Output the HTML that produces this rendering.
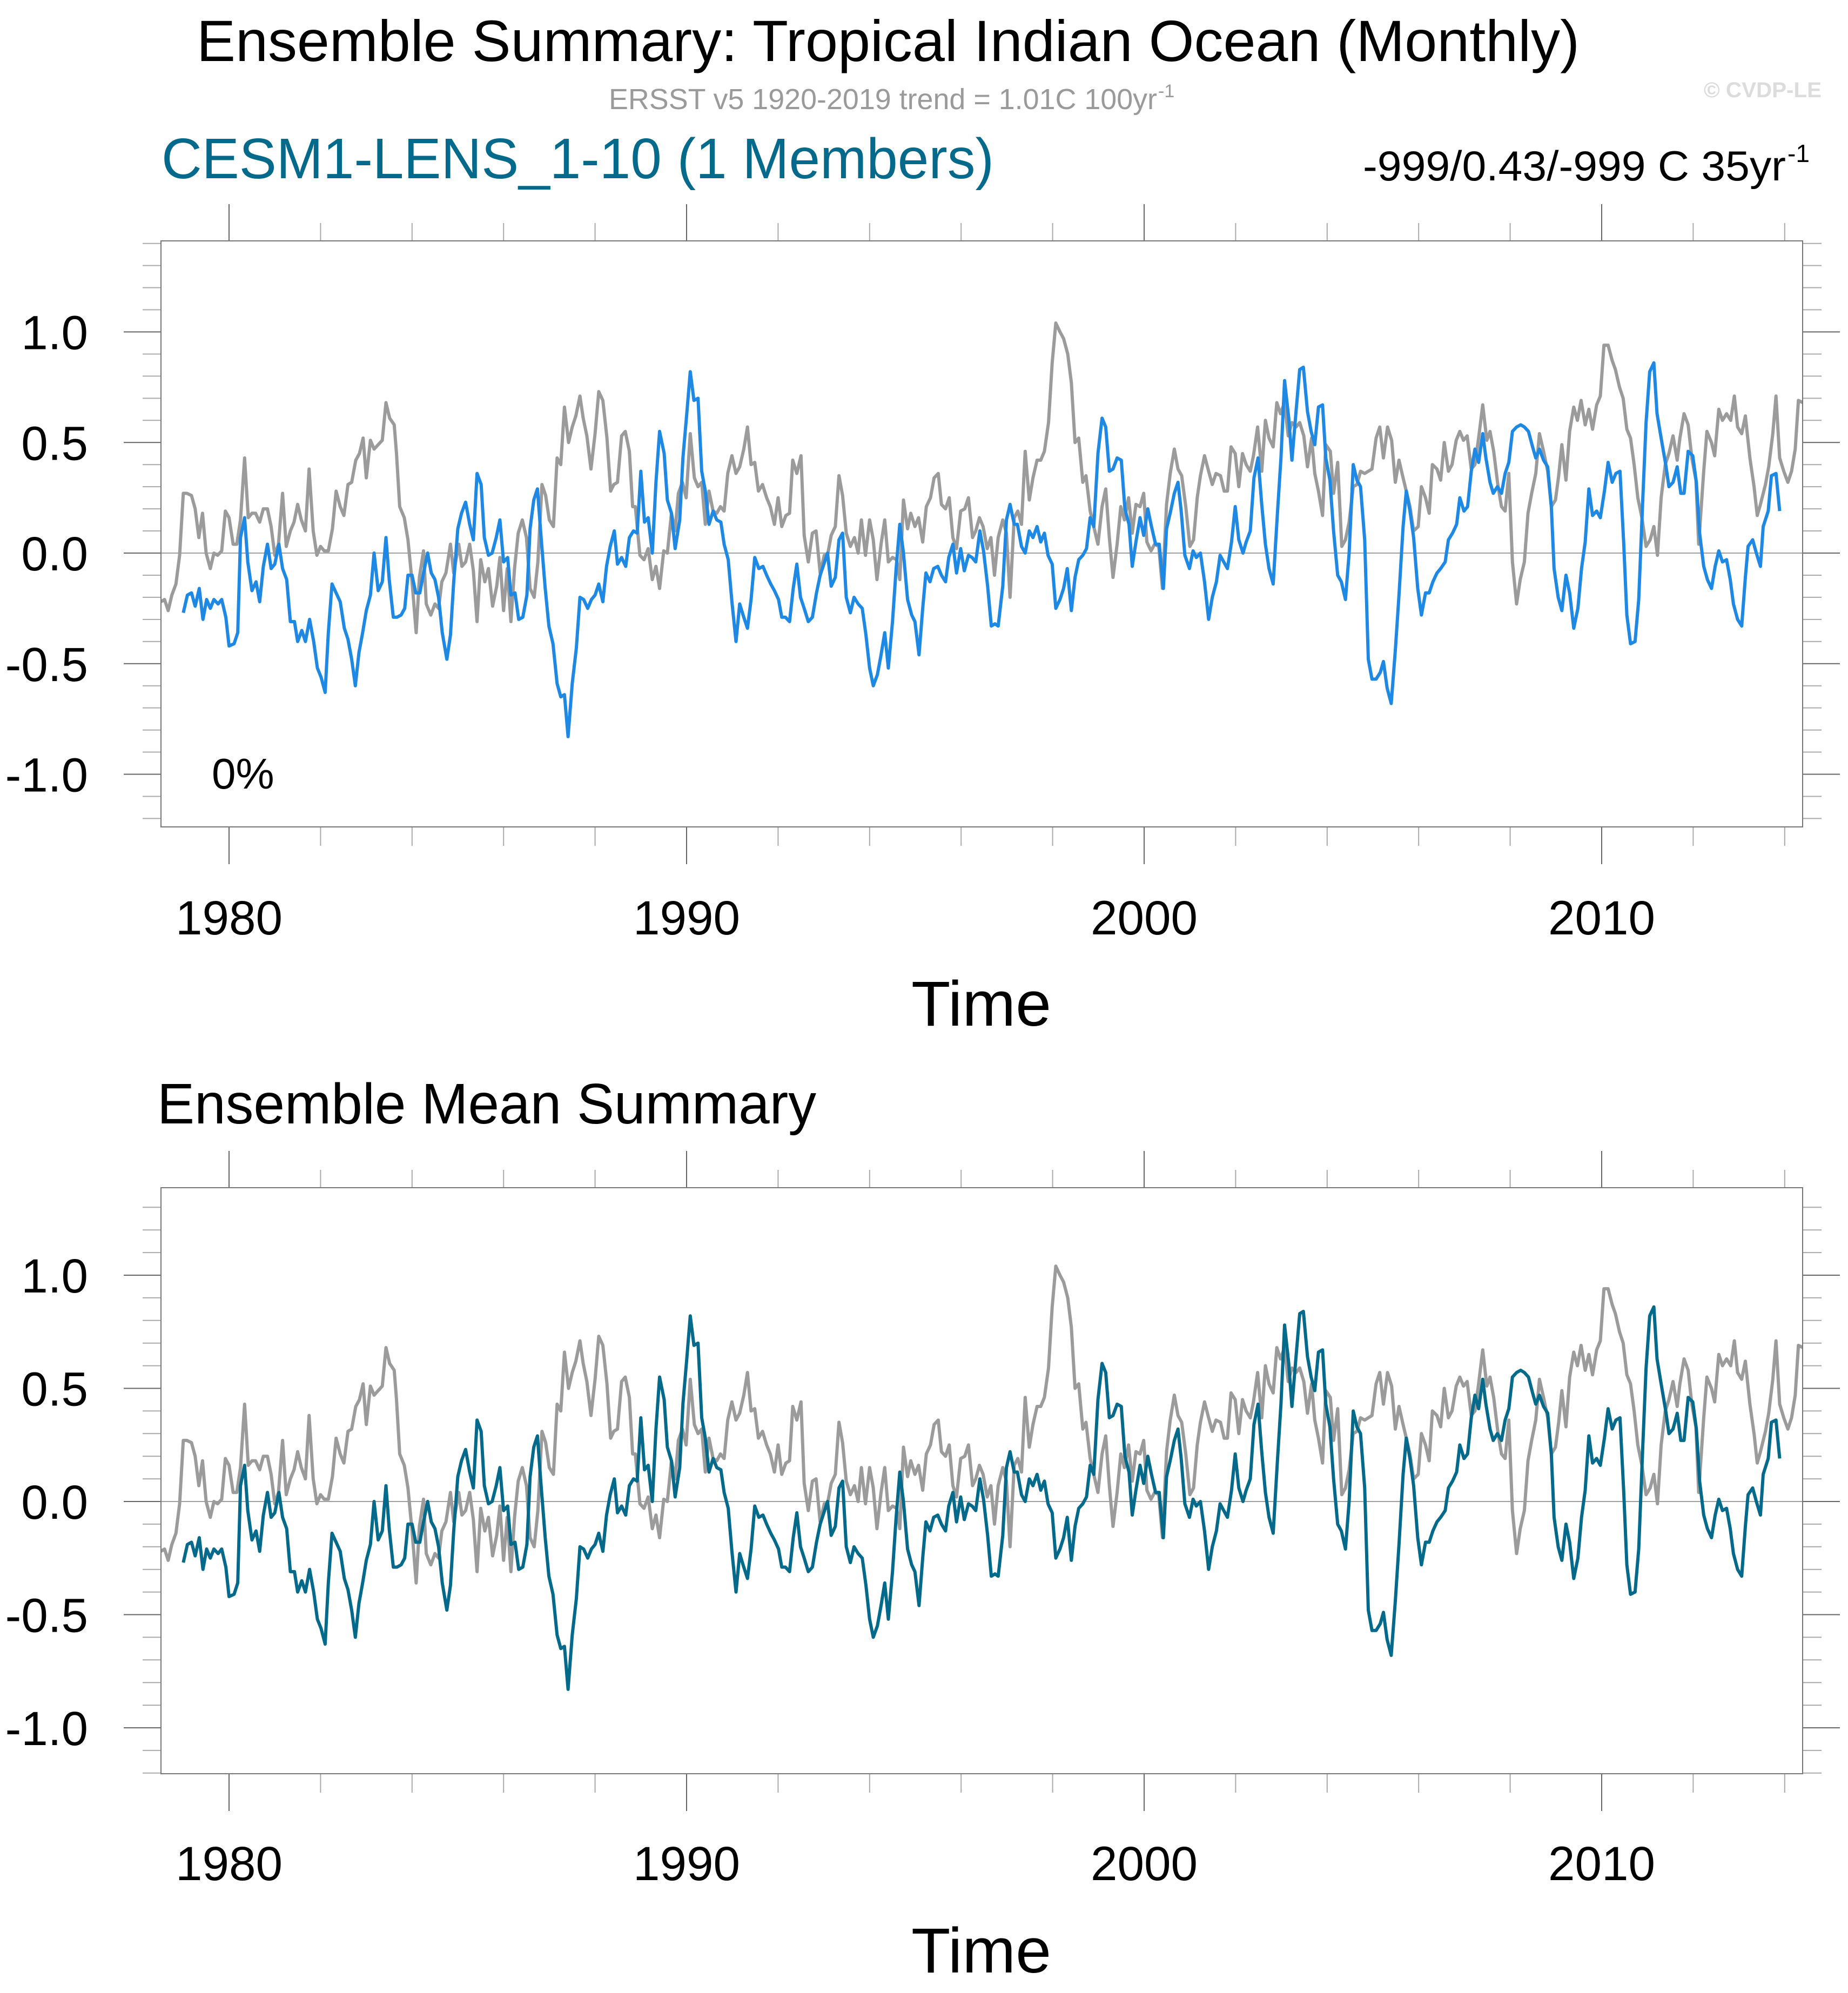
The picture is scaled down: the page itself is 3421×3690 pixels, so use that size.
<!DOCTYPE html>
<html><head><meta charset="utf-8"><style>
html,body{margin:0;padding:0;background:#fff;}
svg{display:block;font-family:"Liberation Sans",Arial,sans-serif;}
</style></head><body>
<svg id="chart" width="3421" height="3690" viewBox="0 0 3421 3690" xmlns="http://www.w3.org/2000/svg">
<rect x="0" y="0" width="3421" height="3690" fill="#fff"/>
<text x="364" y="113" font-size="108" textLength="2560" lengthAdjust="spacingAndGlyphs">Ensemble Summary: Tropical Indian Ocean (Monthly)</text>
<text x="1127" y="202" font-size="54" fill="#9a9a9a" textLength="1015" lengthAdjust="spacingAndGlyphs">ERSST v5 1920-2019 trend = 1.01C 100yr</text>
<text x="2144" y="180" font-size="34" fill="#9a9a9a">-1</text>
<text x="3154" y="180" font-size="40" font-weight="bold" fill="#dcdcdc" textLength="218" lengthAdjust="spacingAndGlyphs">© CVDP-LE</text>
<text x="299" y="330" font-size="106" fill="#046a8c" textLength="1541" lengthAdjust="spacingAndGlyphs">CESM1-LENS_1-10 (1 Members)</text>
<text x="2523" y="334" font-size="78" textLength="783" lengthAdjust="spacingAndGlyphs">-999/0.43/-999 C 35yr</text>
<text x="3309" y="300" font-size="46">-1</text>
<text x="392" y="1460" font-size="80">0%</text>
<text x="1687" y="1899" font-size="118" textLength="259" lengthAdjust="spacingAndGlyphs">Time</text>
<text x="291" y="2080" font-size="106" textLength="1220" lengthAdjust="spacingAndGlyphs">Ensemble Mean Summary</text>
<text x="1687" y="3652" font-size="118" textLength="259" lengthAdjust="spacingAndGlyphs">Time</text>
<g id="top-plot"></g>
<g id="bottom-plot"></g>
</svg>
<script>
// ---- data (years since 1900, anomaly in C) ----
const obsYears = [78.51,78.59,78.67,78.75,78.84,78.92,79.00,79.08,79.18,79.26,79.34,79.42,79.50,79.59,79.67,79.75,79.84,79.92,80.00,80.09,80.17,80.25,80.34,80.42,80.50,80.58,80.67,80.75,80.84,80.92,81.00,81.08,81.17,81.25,81.34,81.42,81.50,81.58,81.67,81.75,81.84,81.92,82.00,82.08,82.17,82.26,82.34,82.43,82.51,82.60,82.68,82.77,82.85,82.93,83.00,83.09,83.17,83.26,83.35,83.43,83.51,83.61,83.66,83.73,83.83,83.91,84.00,84.09,84.16,84.25,84.31,84.41,84.50,84.58,84.65,84.74,84.84,84.91,85.02,85.09,85.17,85.26,85.34,85.42,85.50,85.59,85.67,85.76,85.85,85.92,86.00,86.08,86.16,86.24,86.32,86.41,86.50,86.58,86.67,86.75,86.84,86.92,87.00,87.09,87.17,87.25,87.33,87.42,87.50,87.58,87.67,87.74,87.82,87.91,
88.00,88.08,88.17,88.26,88.34,88.41,88.49,88.58,88.66,88.75,88.82,88.88,88.98,89.07,89.16,89.25,89.33,89.41,89.50,89.58,89.67,89.75,89.82,89.91,89.99,90.08,90.17,90.25,90.33,90.41,90.49,90.58,90.66,90.74,90.82,90.90,90.99,91.08,91.16,91.25,91.33,91.41,91.49,91.57,91.66,91.75,91.83,91.92,92.00,92.08,92.17,92.25,92.32,92.41,92.50,92.57,92.66,92.75,92.83,92.92,93.01,93.08,93.16,93.25,93.33,93.41,93.49,93.58,93.67,93.75,93.82,93.91,94.00,94.08,94.16,94.25,94.33,94.41,94.50,94.59,94.66,94.74,94.83,94.90,94.99,95.07,95.16,95.24,95.33,95.41,95.50,95.57,95.66,95.74,95.82,95.90,95.99,96.08,96.16,96.25,96.32,96.40,96.48,96.57,96.65,96.73,96.81,
96.91,96.99,97.07,97.16,97.24,97.32,97.40,97.49,97.57,97.66,97.74,97.82,97.91,97.99,98.07,98.16,98.24,98.33,98.41,98.49,98.57,98.66,98.73,98.82,98.91,98.99,99.08,99.16,99.24,99.32,99.41,99.49,99.57,99.66,99.74,99.82,99.91,99.99,100.06,100.15,100.23,100.32,100.40,100.49,100.57,100.66,100.74,100.82,100.91,101.00,101.08,101.16,101.23,101.32,101.41,101.49,101.57,101.67,101.75,101.82,101.90,101.99,102.07,102.15,102.23,102.32,102.39,102.48,102.57,102.65,102.73,102.82,102.90,102.98,103.07,103.15,103.23,103.32,103.40,103.49,103.57,103.66,103.73,103.81,103.90,103.97,104.07,104.14,104.23,104.32,104.40,104.48,104.57,104.65,104.73,104.82,104.90,104.98,105.07,105.15,105.23,105.32,105.41,105.49,105.57,105.66,
105.73,105.81,105.89,105.99,106.06,106.15,106.23,106.30,106.40,106.48,106.56,106.65,106.73,106.82,106.90,106.98,107.06,107.15,107.23,107.31,107.40,107.49,107.56,107.64,107.73,107.81,107.89,107.97,108.05,108.14,108.22,108.31,108.39,108.47,108.56,108.64,108.73,108.82,108.90,108.99,109.06,109.13,109.22,109.30,109.39,109.47,109.55,109.64,109.72,109.80,109.89,109.97,110.05,110.14,110.23,110.30,110.39,110.47,110.55,110.63,110.71,110.79,110.88,110.97,111.06,111.14,111.22,111.30,111.39,111.47,111.56,111.65,111.71,111.80,111.89,111.97,112.06,112.12,112.23,112.30,112.40,112.47,112.56,112.64,112.73,112.82,112.90,112.97,113.06,113.14,113.24,113.33,113.40,113.47,113.58,113.65,113.74,113.81,113.89,113.98,114.07,114.15,114.23,114.30,114.40];
const obsValues = [-0.22,-0.21,-0.26,-0.19,-0.14,-0.01,0.27,0.27,0.26,0.20,0.07,0.18,0.00,-0.07,0.00,-0.01,0.01,0.19,0.16,0.04,0.04,0.15,0.43,0.16,0.18,0.18,0.14,0.20,0.20,0.12,-0.01,0.04,0.27,0.03,0.10,0.14,0.22,0.15,0.10,0.38,0.10,-0.01,0.03,0.01,0.01,0.11,0.28,0.21,0.17,0.31,0.32,0.42,0.45,0.52,0.34,0.51,0.47,0.49,0.51,0.68,0.61,0.58,0.45,0.21,0.16,0.06,-0.13,-0.36,-0.11,0.01,-0.23,-0.28,-0.23,-0.25,-0.13,-0.09,0.04,-0.09,0.04,-0.06,-0.04,0.04,-0.08,-0.31,-0.03,-0.13,-0.07,-0.24,-0.15,-0.02,-0.26,-0.07,-0.31,-0.07,0.09,0.15,0.07,-0.16,-0.20,-0.04,0.31,0.26,0.15,0.12,0.43,0.40,0.66,0.50,0.57,0.62,0.71,0.61,0.53,0.38,
0.54,0.73,0.69,0.52,0.28,0.31,0.32,0.53,0.55,0.46,0.21,0.21,-0.01,-0.03,0.02,-0.12,-0.06,-0.16,0.01,0.00,0.18,0.10,0.27,0.32,0.25,0.54,0.34,0.30,0.32,0.13,0.28,0.19,0.18,0.21,0.19,0.36,0.44,0.36,0.39,0.47,0.57,0.40,0.41,0.28,0.31,0.25,0.21,0.13,0.25,0.12,0.17,0.18,0.42,0.36,0.44,0.08,-0.04,0.09,0.10,-0.09,-0.01,-0.01,0.08,0.12,0.35,0.26,0.09,0.03,0.07,0.00,0.15,-0.01,0.15,0.06,-0.12,0.04,0.15,-0.04,-0.02,-0.03,-0.12,0.24,0.11,0.18,0.12,0.16,0.05,0.21,0.25,0.34,0.36,0.22,0.20,0.25,0.07,0.02,0.19,0.20,0.25,0.07,0.10,0.16,0.12,0.02,0.07,-0.10,0.07,
0.15,0.09,-0.20,0.16,0.19,0.13,0.46,0.24,0.34,0.42,0.42,0.46,0.59,0.86,1.04,1.00,0.97,0.90,0.77,0.50,0.52,0.32,0.35,0.19,0.11,0.04,0.21,0.29,0.07,-0.11,0.04,0.21,0.15,0.25,0.09,0.22,0.21,0.27,0.05,0.01,0.04,0.03,-0.16,0.22,0.36,0.47,0.38,0.35,0.21,0.03,0.06,0.25,0.35,0.44,0.37,0.31,0.36,0.35,0.28,0.28,0.48,0.45,0.30,0.45,0.40,0.37,0.44,0.57,0.37,0.60,0.52,0.48,0.68,0.63,0.68,0.53,0.59,0.57,0.59,0.53,0.39,0.52,0.36,0.28,0.17,0.49,0.46,0.27,0.41,0.03,0.06,0.14,0.30,0.31,0.37,0.36,0.37,0.38,0.52,0.57,0.43,0.57,0.51,0.32,0.42,0.34,
0.28,0.21,0.10,0.12,0.30,0.25,0.18,0.40,0.38,0.33,0.50,0.37,0.40,0.51,0.55,0.51,0.53,0.38,0.40,0.52,0.67,0.51,0.55,0.46,0.31,0.21,0.19,0.36,-0.04,-0.23,-0.12,-0.04,0.18,0.27,0.36,0.54,0.46,0.37,0.21,0.24,0.35,0.49,0.33,0.55,0.66,0.60,0.69,0.58,0.65,0.56,0.67,0.71,0.94,0.94,0.87,0.83,0.75,0.70,0.56,0.52,0.40,0.25,0.16,0.03,0.06,0.12,-0.01,0.25,0.40,0.45,0.53,0.42,0.52,0.63,0.58,0.43,0.33,0.04,0.37,0.55,0.50,0.44,0.65,0.60,0.63,0.60,0.71,0.57,0.54,0.62,0.43,0.30,0.17,0.22,0.31,0.39,0.54,0.71,0.43,0.37,0.32,0.37,0.47,0.69,0.68];
const modelYears = [79.00,79.09,79.18,79.26,79.35,79.43,79.51,79.59,79.67,79.76,79.84,79.93,80.00,80.11,80.19,80.25,80.34,80.41,80.50,80.59,80.67,80.75,80.84,80.92,81.00,81.09,81.17,81.26,81.34,81.43,81.50,81.59,81.67,81.76,81.85,81.93,82.01,82.10,82.17,82.25,82.34,82.43,82.52,82.60,82.68,82.76,82.84,82.92,83.00,83.09,83.17,83.26,83.35,83.43,83.50,83.59,83.67,83.76,83.84,83.91,84.00,84.08,84.17,84.25,84.34,84.42,84.50,84.58,84.66,84.76,84.84,84.91,85.00,85.08,85.17,85.26,85.34,85.42,85.51,85.58,85.67,85.75,85.84,85.92,86.00,86.09,86.16,86.25,86.33,86.42,86.51,86.58,86.66,86.74,86.82,86.91,86.99,87.08,87.17,87.25,87.33,87.41,87.50,87.59,87.67,87.75,87.84,87.92,
88.00,88.08,88.17,88.25,88.33,88.42,88.49,88.58,88.67,88.75,88.84,88.92,89.00,89.08,89.16,89.25,89.33,89.41,89.51,89.58,89.67,89.75,89.85,89.92,90.00,90.08,90.16,90.25,90.33,90.41,90.49,90.58,90.66,90.75,90.82,90.91,90.99,91.08,91.16,91.25,91.33,91.41,91.49,91.58,91.67,91.75,91.84,91.92,92.01,92.08,92.16,92.25,92.33,92.41,92.49,92.57,92.66,92.75,92.84,92.92,93.00,93.08,93.16,93.25,93.33,93.41,93.49,93.58,93.66,93.75,93.84,93.92,94.00,94.08,94.17,94.25,94.33,94.41,94.50,94.58,94.66,94.74,94.83,94.92,94.99,95.08,95.16,95.23,95.32,95.40,95.49,95.57,95.66,95.73,95.82,95.90,95.99,96.07,96.16,96.24,96.32,96.41,96.49,96.58,96.66,96.74,96.81,
96.91,96.99,97.07,97.16,97.23,97.32,97.40,97.49,97.57,97.66,97.74,97.82,97.90,97.99,98.07,98.16,98.24,98.32,98.41,98.49,98.57,98.66,98.74,98.82,98.90,98.99,99.08,99.16,99.24,99.32,99.41,99.50,99.58,99.67,99.74,99.82,99.91,99.99,100.08,100.16,100.25,100.33,100.42,100.49,100.58,100.66,100.74,100.81,100.89,100.99,101.07,101.14,101.23,101.32,101.41,101.49,101.58,101.66,101.74,101.82,101.91,101.99,102.07,102.16,102.23,102.32,102.40,102.49,102.57,102.65,102.73,102.82,102.91,102.99,103.07,103.16,103.23,103.32,103.40,103.48,103.57,103.65,103.73,103.81,103.90,103.97,104.06,104.14,104.23,104.31,104.40,104.48,104.57,104.65,104.73,104.82,104.90,104.98,105.07,105.16,105.23,105.31,105.40,105.49,105.57,105.66,
105.73,105.81,105.89,105.98,106.06,106.15,106.23,106.31,106.40,106.48,106.58,106.65,106.74,106.83,106.90,106.99,107.07,107.15,107.23,107.31,107.40,107.47,107.56,107.63,107.72,107.81,107.89,107.97,108.05,108.14,108.23,108.31,108.40,108.49,108.56,108.64,108.73,108.82,108.90,108.96,109.05,109.13,109.22,109.30,109.39,109.48,109.56,109.64,109.72,109.80,109.89,109.97,110.06,110.14,110.23,110.31,110.40,110.48,110.55,110.63,110.73,110.81,110.90,110.97,111.05,111.14,111.21,111.30,111.40,111.47,111.56,111.65,111.73,111.80,111.89,111.99,112.07,112.14,112.23,112.31,112.40,112.48,112.56,112.64,112.73,112.81,112.88,112.97,113.06,113.14,113.20,113.30,113.38,113.47,113.53,113.64,113.71,113.81,113.89];
const modelValues = [-0.27,-0.19,-0.18,-0.24,-0.16,-0.30,-0.21,-0.25,-0.21,-0.23,-0.21,-0.29,-0.42,-0.41,-0.36,0.07,0.16,-0.04,-0.17,-0.13,-0.22,-0.06,0.04,-0.07,-0.05,0.04,-0.07,-0.12,-0.31,-0.31,-0.40,-0.35,-0.40,-0.30,-0.40,-0.52,-0.56,-0.63,-0.36,-0.14,-0.18,-0.22,-0.34,-0.39,-0.48,-0.60,-0.45,-0.36,-0.26,-0.19,0.00,-0.17,-0.13,0.07,-0.12,-0.29,-0.29,-0.28,-0.25,-0.10,-0.10,-0.18,-0.18,-0.09,0.00,-0.09,-0.12,-0.20,-0.36,-0.48,-0.37,-0.13,0.11,0.18,0.23,0.13,0.06,0.36,0.31,0.07,-0.01,0.00,0.07,0.15,-0.04,-0.02,-0.19,-0.18,-0.30,-0.29,-0.19,0.11,0.24,0.29,0.07,-0.16,-0.33,-0.41,-0.59,-0.65,-0.64,-0.83,-0.59,-0.43,-0.20,-0.21,-0.25,-0.21,
-0.19,-0.14,-0.22,-0.06,0.03,0.10,-0.05,-0.02,-0.06,0.07,0.10,0.09,0.37,0.14,0.16,0.00,0.32,0.55,0.45,0.24,0.18,0.02,0.15,0.43,0.62,0.82,0.69,0.70,0.37,0.28,0.13,0.19,0.15,0.14,0.04,-0.03,-0.22,-0.40,-0.23,-0.29,-0.34,-0.21,-0.02,-0.07,-0.06,-0.10,-0.14,-0.17,-0.21,-0.29,-0.29,-0.31,-0.16,-0.05,-0.20,-0.25,-0.31,-0.29,-0.18,-0.10,-0.05,0.00,-0.15,-0.11,0.06,0.09,-0.20,-0.27,-0.20,-0.23,-0.25,-0.37,-0.52,-0.60,-0.55,-0.46,-0.36,-0.52,-0.31,-0.07,0.13,0.00,-0.21,-0.28,-0.31,-0.46,-0.25,-0.09,-0.13,-0.07,-0.06,-0.10,-0.13,-0.02,0.04,-0.09,0.02,-0.08,-0.01,-0.02,-0.04,0.10,0.01,-0.15,-0.33,-0.32,-0.33,
-0.15,0.15,0.22,0.13,0.13,0.03,0.00,0.10,0.07,0.12,0.05,0.09,-0.01,-0.05,-0.25,-0.21,-0.16,-0.07,-0.26,-0.11,-0.03,-0.01,0.02,0.16,0.12,0.45,0.61,0.57,0.37,0.38,0.43,0.42,0.20,0.13,-0.06,0.05,0.16,0.08,0.20,0.12,0.04,0.04,-0.16,0.11,0.19,0.27,0.32,0.19,-0.01,-0.07,0.01,-0.02,0.00,-0.13,-0.30,-0.20,-0.13,-0.01,-0.04,-0.07,0.05,0.21,0.06,0.00,0.05,0.10,0.34,0.43,0.22,0.04,-0.07,-0.14,0.17,0.43,0.78,0.61,0.42,0.64,0.83,0.84,0.64,0.55,0.49,0.66,0.67,0.43,0.33,0.10,-0.10,-0.13,-0.21,0.00,0.40,0.33,0.30,0.06,-0.48,-0.57,-0.57,-0.54,-0.49,-0.61,-0.68,-0.44,-0.19,0.12,
0.28,0.19,0.07,-0.16,-0.28,-0.18,-0.18,-0.13,-0.09,-0.07,-0.04,0.06,0.09,0.13,0.25,0.19,0.21,0.37,0.47,0.41,0.54,0.43,0.32,0.27,0.30,0.27,0.36,0.41,0.55,0.57,0.58,0.57,0.55,0.48,0.43,0.47,0.42,0.39,0.21,-0.07,-0.20,-0.26,-0.10,-0.18,-0.34,-0.25,-0.07,0.05,0.29,0.17,0.19,0.16,0.28,0.41,0.32,0.36,0.37,0.05,-0.28,-0.41,-0.40,-0.21,0.25,0.59,0.82,0.86,0.63,0.52,0.40,0.30,0.32,0.39,0.27,0.27,0.46,0.44,0.32,0.09,-0.06,-0.12,-0.16,-0.06,0.01,-0.04,-0.03,-0.12,-0.23,-0.30,-0.33,-0.11,0.03,0.06,0.00,-0.06,0.12,0.19,0.35,0.36,0.19];
const yTickValues = [-1.0,-0.5,0.0,0.5,1.0];
const yTickLabels = ["-1.0","-0.5","0.0","0.5","1.0"];
const xTickYears = [1980,1990,2000,2010];
const xTickLabels = ["1980","1990","2000","2010"];

const NS = "http://www.w3.org/2000/svg";
function mk(tag, attrs, parent){const e=document.createElementNS(NS,tag);for(const k in attrs)e.setAttribute(k,attrs[k]);parent.appendChild(e);return e;}

const frameL = 298, frameR = 3337;
function xScale(yr){return 424 + (yr-1980)*84.7;}

function drawPanel(g, top, bottom, zeroY, pxPerUnit, lineColor, lineName, labelBaseline){
  const yScale = v => zeroY - v*pxPerUnit;
  const vTop = (zeroY-top)/pxPerUnit, vBot = (zeroY-bottom)/pxPerUnit;
  const zl = mk("line",{x1:frameL,x2:frameR,y1:yScale(0),y2:yScale(0),stroke:"#a0a0a0","stroke-width":2},g);
  
  
  for(let i=-20;i<=20;i++){
    const v=i/10; if(v>vTop||v<vBot) continue;
    const y=yScale(v); const major = (i%5===0);
    const tl = mk("line",{x1:major?229:264,x2:frameL,y1:y,y2:y,stroke:major?"#666":"#aaa","stroke-width":2},g);
    
    
    const tr = mk("line",{x1:frameR,x2:major?3406:3372,y1:y,y2:y,stroke:major?"#666":"#aaa","stroke-width":2},g);
    
    
  }
  yTickValues.forEach((v,i)=>{
    const t = mk("text",{x:163,y:yScale(v)+32,"font-size":89,"text-anchor":"end",fill:"#000"},g);
    t.textContent = yTickLabels[i];
    
    
  });
  for(let yr=1980; yr<=2014; yr+=2){
    const x=xScale(yr); const major=(yr%10===0);
    const a = mk("line",{x1:x,x2:x,y1:top-(major?68:33),y2:top,stroke:major?"#666":"#aaa","stroke-width":2},g);
    
    
    const b = mk("line",{x1:x,x2:x,y1:bottom,y2:bottom+(major?69:35),stroke:major?"#666":"#aaa","stroke-width":2},g);
    
    
  }
  xTickYears.forEach((yr,i)=>{
    const t = mk("text",{x:xScale(yr),y:labelBaseline,"font-size":89,"text-anchor":"middle",fill:"#000"},g);
    t.textContent = xTickLabels[i];
    
    
  });
  const clipId = "clip"+top;
  const cp = mk("clipPath",{id:clipId},g);
  mk("rect",{x:frameL,y:top,width:frameR-frameL,height:bottom-top},cp);
  let d="";
  obsYears.forEach((t,i)=>{d+=(i?"L":"M")+xScale(1900+t).toFixed(1)+","+yScale(obsValues[i]).toFixed(1);});
  const po = mk("path",{d:d,fill:"none",stroke:"#9b9b9b","stroke-width":6,"stroke-linejoin":"round","clip-path":"url(#"+clipId+")"},g);
  
  
  let d2="";
  modelYears.forEach((t,i)=>{d2+=(i?"L":"M")+xScale(1900+t).toFixed(1)+","+yScale(modelValues[i]).toFixed(1);});
  const pm = mk("path",{d:d2,fill:"none",stroke:lineColor,"stroke-width":6,"stroke-linejoin":"round","clip-path":"url(#"+clipId+")"},g);
  
  
  const fr = mk("rect",{x:frameL,y:top,width:frameR-frameL,height:bottom-top,fill:"none",stroke:"#777","stroke-width":2},g);
  
  
}
drawPanel(document.getElementById("top-plot"), 446, 1531, 1024, 409.5, "#1e88e5", "model-member-line", 1730);
drawPanel(document.getElementById("bottom-plot"), 2199, 3284, 2780, 419, "#046a8c", "ensemble-mean-line", 3481);
</script>
</body></html>
